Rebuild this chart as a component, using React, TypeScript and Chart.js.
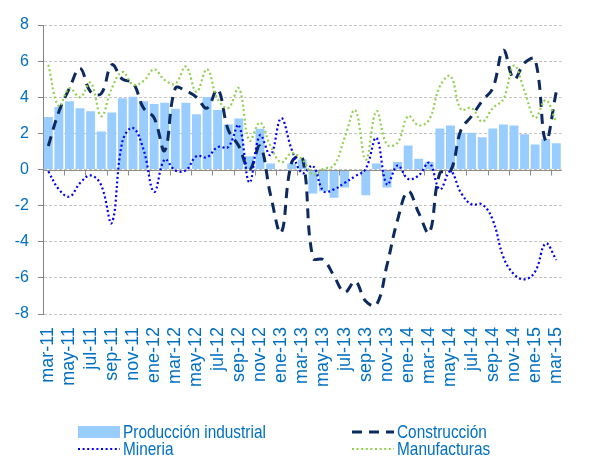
import React, { useEffect, useRef } from 'react';
import { Chart, registerables } from 'chart.js';

Chart.register(...registerables);

const categories = [
  'mar-11', 'abr-11', 'may-11', 'jun-11', 'jul-11', 'ago-11', 'sep-11', 'oct-11', 'nov-11', 'dic-11',
  'ene-12', 'feb-12', 'mar-12', 'abr-12', 'may-12', 'jun-12', 'jul-12', 'ago-12', 'sep-12', 'oct-12', 'nov-12', 'dic-12',
  'ene-13', 'feb-13', 'mar-13', 'abr-13', 'may-13', 'jun-13', 'jul-13', 'ago-13', 'sep-13', 'oct-13', 'nov-13', 'dic-13',
  'ene-14', 'feb-14', 'mar-14', 'abr-14', 'may-14', 'jun-14', 'jul-14', 'ago-14', 'sep-14', 'oct-14', 'nov-14', 'dic-14',
  'ene-15', 'feb-15', 'mar-15',
];

const produccion = [
  2.91, 3.46, 3.78, 3.39, 3.22, 2.1, 3.15, 3.94, 4.03, 3.78,
  3.63, 3.7, 3.37, 3.7, 3.06, 4.01, 3.3, 2.49, 2.82, 0.74,
  2.25, 0.33, 0, 0.33, 0.55, -1.33, -1.2, -1.57, -1.0, 0,
  -1.42, 0.33, -1.0, 0.42, 1.33, 0.59, 0.42, 2.27, 2.43, 2.03,
  2.03, 1.79, 2.27, 2.49, 2.43, 1.95, 1.38, 1.69, 1.45,
];

const construccion = [
  1.3, 3.2, 4.5, 5.6, 4.3, 4.2, 5.8, 5.0, 4.8, 3.4,
  2.86, 1.05, 4.5, 4.35, 4.0, 3.4, 4.45, 2.2, 1.3, 0.0,
  1.3, -1.4, -3.5, 0.4, 0.7, -4.9, -5.0, -5.9, -6.8, -6.2,
  -7.3, -7.5, -5.3, -2.8, -1.2, -2.4, -3.5, -0.2, -0.1, 2.2,
  2.95, 3.8, 4.5, 6.6, 5.0, 5.9, 6.1, 1.6, 4.3,
];

const mineria = [
  -0.1, -1.1, -1.5, -0.75, -0.33, -0.87, -2.95, 1.55, 2.3, 1.1,
  -1.24, 0.55, -0.05, -0.05, 0.74, 0.68, 1.24, 1.24, 2.45, -0.72,
  1.9, 0.8, 2.84, 1.1, -0.2, 0.2, -1.2, -1.1, -0.74, -0.37,
  0.04, 1.75, -0.83, 0.22, -0.52, -0.33, 0.37, -1.1, -0.1, -1.3,
  -1.93, -1.93, -2.8, -4.85, -5.8, -6.08, -5.66, -4.1, -5.0,
];

const manufacturas = [
  5.8, 3.5, 4.5, 4.0, 4.8, 2.95, 4.5, 5.4, 4.7, 4.9,
  5.55, 4.95, 4.75, 5.7, 4.3, 5.55, 3.9, 3.4, 4.5, 1.6,
  2.6, 1.3, 0.4, 0.9, 0.55, -0.28, 0.04, 0.22, 1.75, 3.28,
  0.55, 3.23, 1.38, 1.48, 2.95, 2.44, 2.77, 4.61, 5.17, 3.32,
  3.41, 2.65, 3.4, 3.9, 5.76, 4.34, 2.86, 3.84, 2.62,
];

const TEXT_BLUE = '#0070C0';
const FONT = '"Liberation Sans", Arial, sans-serif';
const BAR_COLOR = '#99CCFF';
const CONSTR_COLOR = '#0C2A5E';
const MIN_COLOR = '#0000FF';
const MANUF_COLOR = '#92D050';
const DOT_DASH = [2, 2.6];
const DASH = [10, 7];

const zeroLinePlugin = {
  id: 'zeroLine',
  afterDatasetDraw(chart: any, args: any) {
    if (args.index !== 0) return;
    const { ctx, chartArea, scales } = chart;
    const y = Math.round(scales.y.getPixelForValue(0)) + 0.5;
    const n = categories.length;
    const w = (chartArea.right - chartArea.left) / n;
    ctx.save();
    ctx.strokeStyle = '#8C8C8C';
    ctx.lineWidth = 1;
    ctx.setLineDash([]);
    ctx.beginPath();
    ctx.moveTo(chartArea.left, y);
    ctx.lineTo(chartArea.right, y);
    for (let k = 2; k <= n; k += 2) {
      const px = Math.round(chartArea.left + k * w) + 0.5;
      ctx.moveTo(px, y);
      ctx.lineTo(px, y + 5);
    }
    ctx.stroke();
    ctx.restore();
  },
};

function LegendSample({ kind, color }: { kind: string; color: string }) {
  if (kind === 'bar') {
    return (
      <svg width={42} height={14} style={{ display: 'block' }}>
        <rect x={0} y={1} width={42} height={12} fill={color} />
      </svg>
    );
  }
  const dash = kind === 'dash' ? DASH.join(',') : DOT_DASH.join(',');
  const sw = kind === 'dash' ? 3 : 2;
  return (
    <svg width={42} height={14} style={{ display: 'block' }}>
      <line x1={0} y1={7} x2={42} y2={7} stroke={color} strokeWidth={sw} strokeDasharray={dash} />
    </svg>
  );
}

function LegendItem({ x, y, kind, color, label }: { x: number; y: number; kind: string; color: string; label: string }) {
  return (
    <div
      style={{
        position: 'absolute',
        left: x,
        top: y - 10,
        height: 20,
        display: 'flex',
        alignItems: 'center',
        whiteSpace: 'nowrap',
      }}
    >
      <LegendSample kind={kind} color={color} />
      <span
        style={{
          display: 'inline-block',
          marginLeft: 3,
          fontSize: 19,
          color: TEXT_BLUE,
          fontFamily: FONT,
          lineHeight: '20px',
          transform: 'scaleX(0.81)',
          transformOrigin: 'left center',
        }}
      >
        {label}
      </span>
    </div>
  );
}

export default function App() {
  const ref = useRef<HTMLCanvasElement>(null);

  useEffect(() => {
    if (!ref.current) return;
    const chart = new Chart(ref.current, {
      type: 'bar',
      data: {
        labels: categories,
        datasets: [
          {
            type: 'bar',
            label: 'Producción industrial',
            data: produccion,
            backgroundColor: BAR_COLOR,
            barPercentage: 0.84,
            categoryPercentage: 1,
            order: 10,
          } as any,
          {
            type: 'line',
            label: 'Construcción',
            data: construccion,
            borderColor: CONSTR_COLOR,
            borderWidth: 3,
            borderDash: DASH,
            pointRadius: 0,
            tension: 0.4,
            fill: false,
            order: 3,
          },
          {
            type: 'line',
            label: 'Mineria',
            data: mineria,
            borderColor: MIN_COLOR,
            borderWidth: 2.2,
            borderDash: DOT_DASH,
            pointRadius: 0,
            tension: 0.4,
            fill: false,
            order: 2,
          },
          {
            type: 'line',
            label: 'Manufacturas',
            data: manufacturas,
            borderColor: MANUF_COLOR,
            borderWidth: 2.2,
            borderDash: DOT_DASH,
            pointRadius: 0,
            tension: 0.4,
            fill: false,
            order: 1,
          },
        ],
      },
      options: {
        responsive: false,
        animation: false,
        layout: { padding: { left: 0, right: 10, top: 25, bottom: 0 } },
        plugins: {
          legend: { display: false },
          tooltip: { enabled: false },
        },
        scales: {
          x: {
            offset: true,
            grid: { display: false, drawTicks: false },
            border: { display: false },
            ticks: {
              autoSkip: false,
              maxRotation: 90,
              minRotation: 90,
              padding: 13,
              color: TEXT_BLUE,
              font: { family: FONT, size: 18 },
              callback: (_v: any, i: number) => (i % 2 === 0 ? categories[i] : ''),
            },
            afterFit: (s: any) => {
              s.height = 144;
            },
          },
          y: {
            min: -8,
            max: 8,
            ticks: {
              stepSize: 2,
              padding: 9,
              color: TEXT_BLUE,
              font: { family: FONT, size: 16 },
            },
            grid: {
              color: '#C4C4C4',
              lineWidth: 1,
              drawTicks: true,
              tickLength: 5,
              tickColor: '#868686',
            },
            border: { display: true, color: '#868686', width: 1, dash: [3, 2] },
            afterFit: (s: any) => {
              s.width = 43;
            },
          },
        },
      } as any,
      plugins: [zeroLinePlugin],
    });
    return () => chart.destroy();
  }, []);

  return (
    <div style={{ position: 'absolute', left: 0, top: 0, width: 591, height: 458, background: '#fff' }}>
      <canvas ref={ref} width={591} height={458} style={{ display: 'block', width: 591, height: 458 }} />
      <LegendItem x={78} y={432} kind="bar" color={BAR_COLOR} label="Producción industrial" />
      <LegendItem x={352} y={432} kind="dash" color={CONSTR_COLOR} label="Construcción" />
      <LegendItem x={78} y={449} kind="dot" color={MIN_COLOR} label="Mineria" />
      <LegendItem x={352} y={449} kind="dot" color={MANUF_COLOR} label="Manufacturas" />
    </div>
  );
}
